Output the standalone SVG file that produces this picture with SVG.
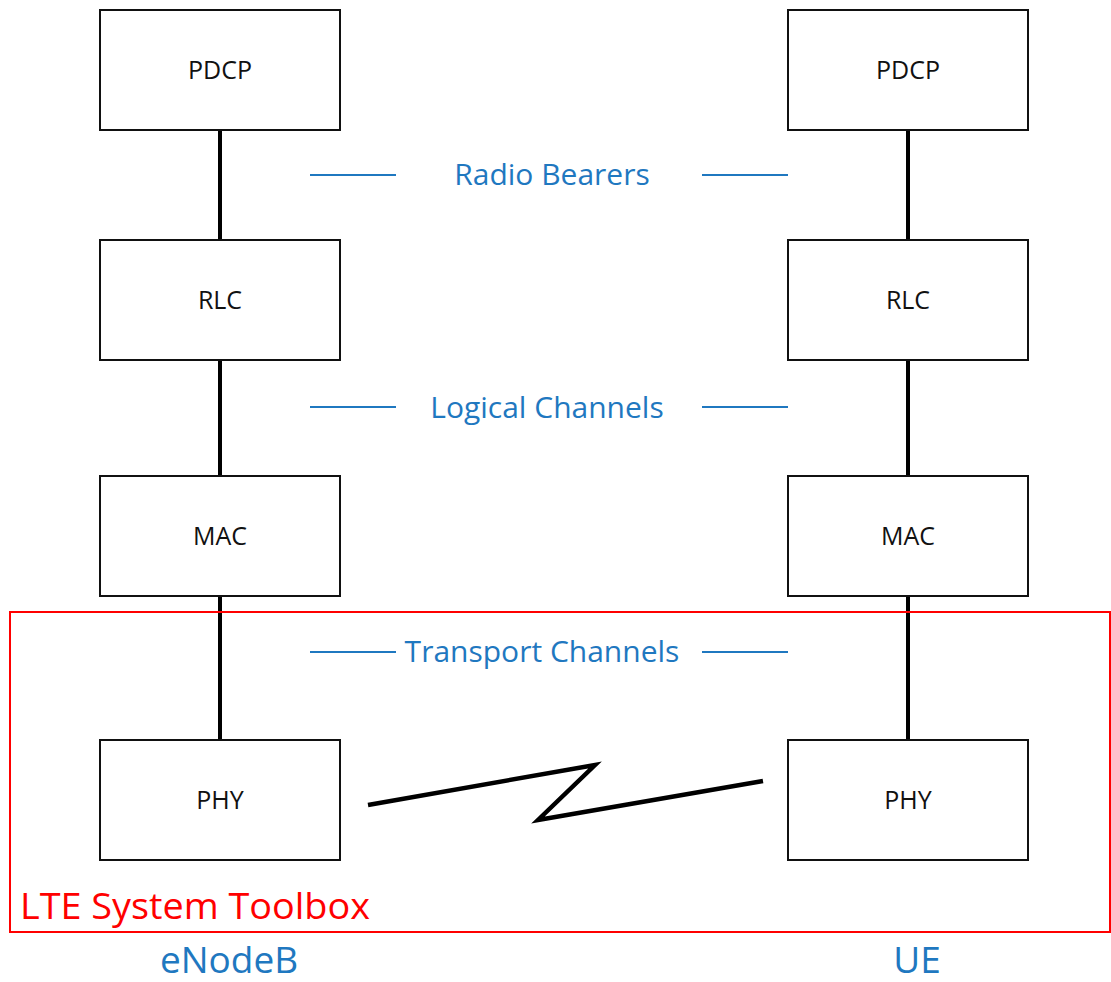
<svg xmlns="http://www.w3.org/2000/svg" width="1111" height="982" viewBox="0 0 1111 982">
<style>
.box{fill:#fff;stroke:#111;stroke-width:2}
.lbl{font-family:"Open Sans","Liberation Sans",sans-serif;font-size:25px;fill:#111;text-anchor:middle}
.vl{stroke:#000;stroke-width:4}
.bl{stroke:#1f78c0;stroke-width:2}
.bt{font-family:"Open Sans","Liberation Sans",sans-serif;font-size:30px;fill:#1f78c0;text-anchor:middle}
</style>
<rect width="1111" height="982" fill="#fff"/>
<g id="connectors">
<line class="vl" x1="220" y1="130" x2="220" y2="740"/>
<line class="vl" x1="908" y1="130" x2="908" y2="740"/>
<polyline points="368,805 595,765 538,820 763,781" fill="none" stroke="#000" stroke-width="4.5" stroke-linejoin="miter"/>
</g>
<g id="boxes">
<g id="pdcp-l"><rect class="box" x="100" y="10" width="240" height="120"/><text class="lbl" x="220" y="79">PDCP</text></g>
<g id="rlc-l"><rect class="box" x="100" y="240" width="240" height="120"/><text class="lbl" x="220" y="309">RLC</text></g>
<g id="mac-l"><rect class="box" x="100" y="476" width="240" height="120"/><text class="lbl" x="220" y="545">MAC</text></g>
<g id="phy-l"><rect class="box" x="100" y="740" width="240" height="120"/><text class="lbl" x="220" y="809">PHY</text></g>
<g id="pdcp-r"><rect class="box" x="788" y="10" width="240" height="120"/><text class="lbl" x="908" y="79">PDCP</text></g>
<g id="rlc-r"><rect class="box" x="788" y="240" width="240" height="120"/><text class="lbl" x="908" y="309">RLC</text></g>
<g id="mac-r"><rect class="box" x="788" y="476" width="240" height="120"/><text class="lbl" x="908" y="545">MAC</text></g>
<g id="phy-r"><rect class="box" x="788" y="740" width="240" height="120"/><text class="lbl" x="908" y="809">PHY</text></g>
</g>
<g id="channels">
<line class="bl" x1="310" y1="175" x2="396" y2="175"/><line class="bl" x1="702" y1="175" x2="788" y2="175"/>
<text class="bt" x="552" y="185">Radio Bearers</text>
<line class="bl" x1="310" y1="407" x2="396" y2="407"/><line class="bl" x1="702" y1="407" x2="788" y2="407"/>
<text class="bt" x="547" y="418">Logical Channels</text>
<line class="bl" x1="310" y1="652" x2="396" y2="652"/><line class="bl" x1="702" y1="652" x2="788" y2="652"/>
<text class="bt" x="542" y="662">Transport Channels</text>
</g>
<g id="toolbox">
<rect x="10" y="612" width="1100" height="320" fill="none" stroke="#f00" stroke-width="2"/>
<text x="20" y="919" font-family="'Open Sans','Liberation Sans',sans-serif" font-size="37" fill="#f00" textLength="350" lengthAdjust="spacingAndGlyphs">LTE System Toolbox</text>
</g>
<text class="bt" x="229" y="973" style="font-size:37px">eNodeB</text>
<text class="bt" x="917" y="973" style="font-size:37px">UE</text>
</svg>
